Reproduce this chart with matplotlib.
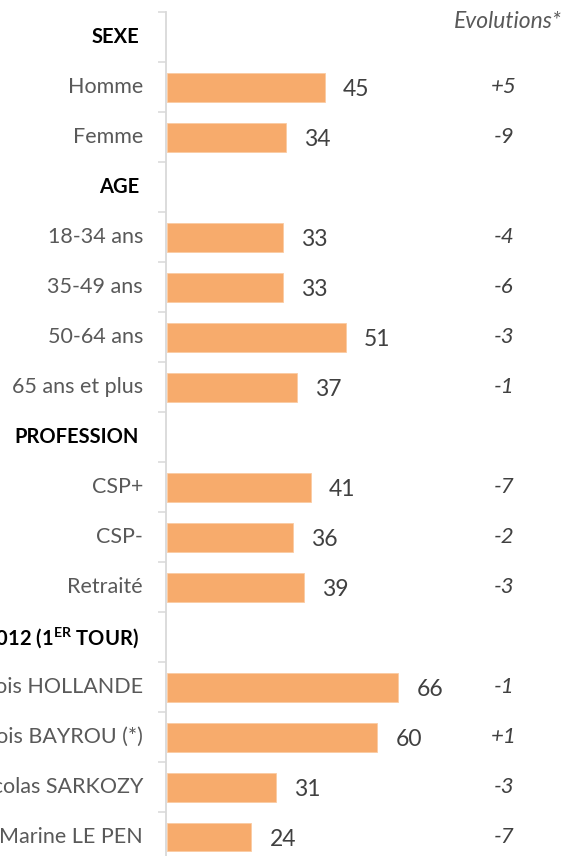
import numpy as np
import matplotlib
matplotlib.use("Agg")
import matplotlib.pyplot as plt
from matplotlib.transforms import blended_transform_factory

plt.rcParams['font.family'] = ['Lato', 'DejaVu Sans']
plt.rcParams['mathtext.fontset'] = 'custom'
plt.rcParams['mathtext.rm'] = 'Lato'
plt.rcParams['mathtext.bf'] = 'Lato:bold'

categories = ["SEXE", "Homme", "Femme", "AGE", "18-34 ans", "35-49 ans", "50-64 ans",
              "65 ans et plus", "PROFESSION", "CSP+", "CSP-", "Retraité",
              r"VOTE PRÉSIDENTIELLE 2012 (1$^{\mathbf{ER}}$ TOUR)",
              "François HOLLANDE", "François BAYROU (*)", "Nicolas SARKOZY", "Marine LE PEN"]
is_header = [True, False, False, True, False, False, False, False, True, False, False, False,
             True, False, False, False, False]
values = [np.nan, 45, 34, np.nan, 33, 33, 51, 37, np.nan, 41, 36, 39, np.nan, 66, 60, 31, 24]
evolutions = ["", "+5", "-9", "", "-4", "-6", "-3", "-1", "", "-7", "-2", "-3", "", "-1", "+1", "-3", "-7"]
evol_title = "Evolutions*"

W, H = 568, 856
fig = plt.figure(figsize=(W / 100, H / 100), dpi=100)
ax_left, ax_top = 166, 12
ax = fig.add_axes([ax_left / W, 0, (W - ax_left) / W, (H - ax_top) / H])

row_px = 50
n = len(categories)
ypos = np.arange(n)
ax.set_ylim(-0.5 + (H - ax_top) / row_px, -0.5)
px_per_unit = 3.5
ax.set_xlim(-0.4, (W - ax_left) / px_per_unit - 0.4)

bar_color = '#F7AB6C'
ax.barh(ypos, values, height=0.58, color=bar_color, edgecolor='#FBCBA3', linewidth=0.6, left=0)

for y, v in zip(ypos, values):
    if not np.isnan(v):
        ax.annotate(f"{int(v)}", xy=(v, y), xytext=(13, -1.5), textcoords='offset points',
                    ha='left', va='center', fontsize=16.5, color='#404040')

for s in ['top', 'right', 'bottom']:
    ax.spines[s].set_visible(False)
ax.spines['left'].set_color('#D9D9D9')
ax.spines['left'].set_linewidth(1.3)
ax.set_xticks([])
ax.set_yticks(np.arange(-0.5, n - 0.5, 1.0))
ax.set_yticklabels([])
ax.tick_params(axis='y', length=6, width=1.1, color='#D9D9D9', direction='out')

tr = blended_transform_factory(fig.transFigure, ax.transData)
for y, c, hdr in zip(ypos, categories, is_header):
    if hdr:
        ax.text(139 / W, y, c, transform=tr, ha='right', va='center',
                fontsize=14.5, fontweight='bold', color='black', clip_on=False)
    else:
        ax.text(143 / W, y, c, transform=tr, ha='right', va='center',
                fontsize=15.5, color='#595959', clip_on=False)

for y, e in zip(ypos, evolutions):
    if e:
        ax.text(504 / W, y, e, transform=tr, ha='center', va='center',
                fontsize=16, style='italic', color='#404040', clip_on=False)

fig.text(562 / W, 1 - 21 / H, evol_title, ha='right', va='center', fontsize=16.5,
         style='italic', color='#595959')

fig.savefig("out.png", dpi=100)
